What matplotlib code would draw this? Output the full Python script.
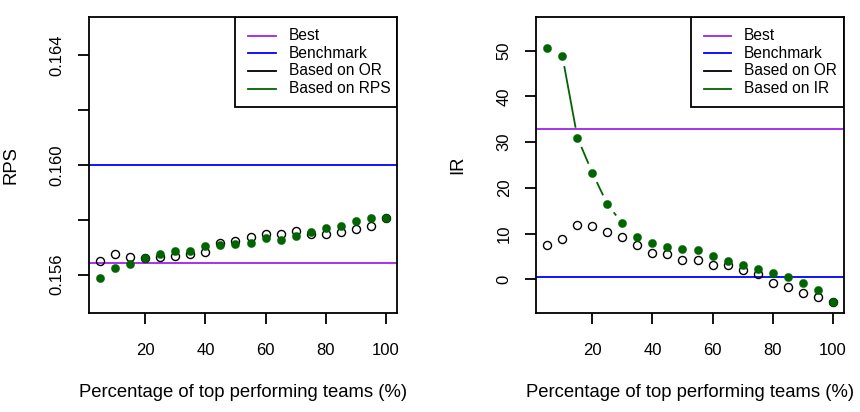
import numpy as np
import matplotlib
matplotlib.use('Agg')
import matplotlib.pyplot as plt

plt.rcParams['font.family'] = ['Liberation Sans', 'DejaVu Sans']

# percentage of top performing teams
pct = [5, 10, 15, 20, 25, 30, 35, 40, 45, 50,
       55, 60, 65, 70, 75, 80, 85, 90, 95, 100]

# left panel: RPS
rps_or = [0.15649, 0.15677, 0.15666, 0.15660, 0.15664, 0.15669, 0.15676, 0.15682, 0.15716, 0.15724,
          0.15737, 0.15750, 0.15747, 0.15758, 0.15748, 0.15750, 0.15756, 0.15767, 0.15778, 0.15806]
rps_rps = [0.15588, 0.15624, 0.15640, 0.15660, 0.15674, 0.15686, 0.15685, 0.15703, 0.15707, 0.15713,
           0.15716, 0.15733, 0.15728, 0.15742, 0.15754, 0.15770, 0.15776, 0.15794, 0.15808, 0.15806]
rps_best = 0.15644
rps_bench = 0.160

# right panel: IR
ir_or = [7.46, 8.77, 11.84, 11.55, 10.31, 9.14, 7.38, 5.63, 5.41, 4.24,
         4.17, 3.14, 3.00, 2.12, 1.10, -0.73, -1.75, -2.92, -3.95, -4.90]
ir_ir = [50.58, 48.83, 30.99, 23.25, 16.37, 12.21, 9.21, 7.82, 7.02, 6.65,
         6.43, 4.97, 4.02, 3.07, 2.19, 1.32, 0.44, -0.80, -2.27, -4.90]
ir_best = 32.97
ir_bench = 0.44

PURPLE = '#A020F0'
BLUE = '#0000FF'
GREEN = '#006400'
FS_TICK = 12
FS_LAB = 13.3
FS_LEG = 11.2
LW = 1.3
GAP = 11  # px gap around points, like R type="b"


def gap_lines(ax, x, y, color):
    # line segments that stop short of each point
    pts = ax.transData.transform(np.column_stack([x, y]))
    inv = ax.transData.inverted()
    for p1, p2 in zip(pts[:-1], pts[1:]):
        d = p2 - p1
        L = np.hypot(*d)
        if L <= 2 * GAP:
            continue
        u = d / L
        a = inv.transform(p1 + GAP * u)
        b = inv.transform(p2 - GAP * u)
        ax.plot([a[0], b[0]], [a[1], b[1]], color=color, lw=LW)


def legend_box(ax, x0, lx0, lx1, tx, labels, colors):
    ax.add_patch(plt.Rectangle((x0, 0.696), 1 - x0, 0.304, transform=ax.transAxes,
                               fill=False, edgecolor='black', lw=LW, zorder=5))
    rows = [0.936, 0.878, 0.818, 0.757]
    for yy, lab, c in zip(rows, labels, colors):
        ax.plot([lx0, lx1], [yy, yy], color=c, lw=LW, transform=ax.transAxes)
        ax.text(tx, yy, lab, transform=ax.transAxes, va='center', ha='left', fontsize=FS_LEG)


def style(ax):
    for s in ax.spines.values():
        s.set_linewidth(LW)
    ax.tick_params(direction='out', length=8, width=LW, labelsize=FS_TICK)
    ax.tick_params(axis='x', pad=13.5)
    ax.tick_params(axis='y', pad=9.5, labelrotation=90)
    for lab in ax.get_yticklabels():
        lab.set_va('center')
    ax.text(0.5, -0.267, 'Percentage of top performing teams (%)', transform=ax.transAxes,
            ha='center', va='center', fontsize=FS_LAB)


fig = plt.figure(figsize=(8.6, 4.12), dpi=100)
ax1 = fig.add_axes([89 / 860, 99 / 412, 308 / 860, 296 / 412])
ax2 = fig.add_axes([536 / 860, 99 / 412, 308 / 860, 296 / 412])

# left panel
ax1.set_xlim(1.2, 103.8)
ax1.set_ylim(0.1546, 0.1654)
ax1.set_xticks([20, 40, 60, 80, 100])
ax1.set_yticks([0.156, 0.158, 0.160, 0.162, 0.164])
ax1.set_yticklabels(['0.156', '', '0.160', '', '0.164'])
ax1.axhline(rps_best, color=PURPLE, lw=LW)
ax1.axhline(rps_bench, color=BLUE, lw=LW)
gap_lines(ax1, pct, rps_or, 'black')
gap_lines(ax1, pct, rps_rps, GREEN)
ax1.plot(pct, rps_or, 'o', mfc='none', mec='black', ms=5.8, mew=1.0, ls='none')
ax1.plot(pct, rps_rps, 'o', mfc=GREEN, mec=GREEN, ms=5.9, mew=0.3, ls='none')
ax1.text(-0.253, 0.5, 'RPS', transform=ax1.transAxes, rotation=90,
         ha='center', va='center', fontsize=FS_LAB)
legend_box(ax1, 0.474, 0.516, 0.607, 0.649,
           ['Best', 'Benchmark', 'Based on OR', 'Based on RPS'],
           [PURPLE, BLUE, 'black', GREEN])
style(ax1)

# right panel
ax2.set_xlim(1.2, 103.8)
ax2.set_ylim(-7.4, 57.4)
ax2.set_xticks([20, 40, 60, 80, 100])
ax2.set_yticks([0, 10, 20, 30, 40, 50])
ax2.axhline(ir_best, color=PURPLE, lw=LW)
ax2.axhline(ir_bench, color=BLUE, lw=LW)
gap_lines(ax2, pct, ir_or, 'black')
gap_lines(ax2, pct, ir_ir, GREEN)
ax2.plot(pct, ir_or, 'o', mfc='none', mec='black', ms=5.8, mew=1.0, ls='none')
ax2.plot(pct, ir_ir, 'o', mfc=GREEN, mec=GREEN, ms=5.9, mew=0.3, ls='none')
ax2.text(-0.253, 0.5, 'IR', transform=ax2.transAxes, rotation=90,
         ha='center', va='center', fontsize=FS_LAB)
legend_box(ax2, 0.503, 0.545, 0.633, 0.675,
           ['Best', 'Benchmark', 'Based on OR', 'Based on IR'],
           [PURPLE, BLUE, 'black', GREEN])
style(ax2)

fig.savefig('out.png', dpi=100)
